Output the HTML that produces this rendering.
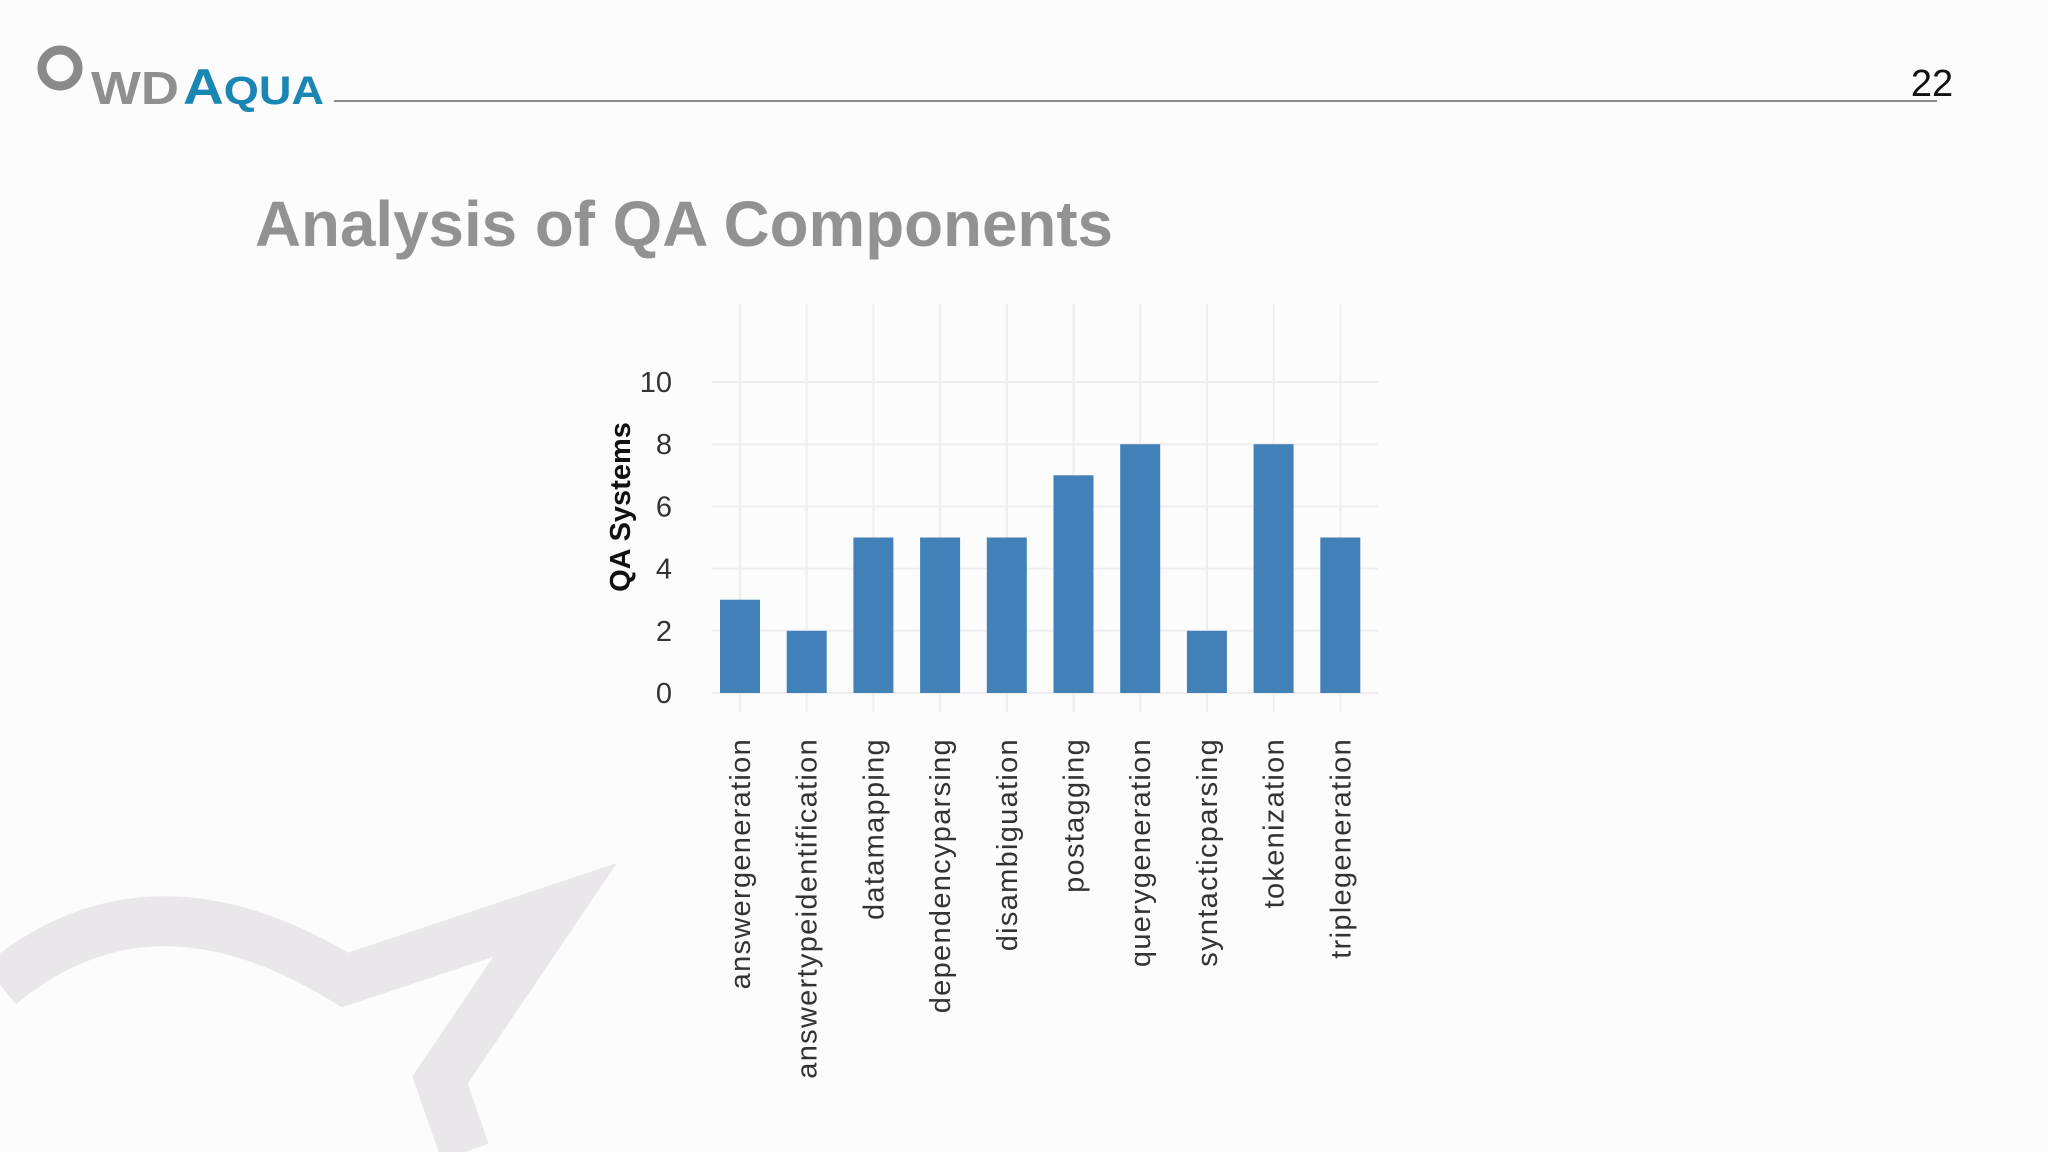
<!DOCTYPE html>
<html><head><meta charset="utf-8"><style>
html,body{margin:0;padding:0;background:#fdfcfd;}
svg{display:block;font-family:"Liberation Sans",sans-serif;}
</style></head><body>
<svg id="slide" width="2048" height="1152" viewBox="0 0 2048 1152">
<rect x="0" y="0" width="2048" height="1152" fill="#fdfcfd"/>
<path d="M0,985 Q150,860 345,980 L555,910 L440,1080 L465,1152" fill="none" stroke="#e9e7ea" stroke-width="50"/>
<g>
<circle cx="60" cy="68" r="18" fill="none" stroke="#8a8a8a" stroke-width="9"/>
<text x="91" y="104" font-size="46" font-weight="bold" fill="#8f8f8f" textLength="88" lengthAdjust="spacingAndGlyphs">WD</text>
<text x="183" y="104" font-size="50" font-weight="bold" fill="#1a86b3" textLength="141" lengthAdjust="spacingAndGlyphs">A<tspan font-size="40">QUA</tspan></text>
</g>
<line x1="334" y1="101" x2="1937" y2="101" stroke="#8a8a8a" stroke-width="2"/>
<text x="1932" y="96" font-size="38" fill="#111" text-anchor="middle">22</text>
<text x="255" y="246" font-size="64" font-weight="bold" fill="#929292" textLength="858" lengthAdjust="spacingAndGlyphs">Analysis of QA Components</text>
<g id="chart"></g>
</svg>
<script>
const categories=["answergeneration","answertypeidentification","datamapping","dependencyparsing","disambiguation","postagging","querygeneration","syntacticparsing","tokenization","triplegeneration"];
const values=[3,2,5,5,5,7,8,2,8,5];
const yTicks=[0,2,4,6,8,10];
const yLabels=["0","2","4","6","8","10"];
const NS="http://www.w3.org/2000/svg";
const g=document.getElementById('chart');
const x0=740, step=66.7, bw=40, yBase=693, unit=31.1;
function xs(i){return x0+i*step;}
function ys(v){return yBase-v*unit;}
function mk(t,a,txt){const e=document.createElementNS(NS,t);for(const k in a)e.setAttribute(k,a[k]);if(txt!==undefined)e.textContent=txt;g.appendChild(e);return e;}
yTicks.forEach((v,i)=>{
 const l=mk('line',{x1:712,x2:1378,y1:ys(v),y2:ys(v),stroke:'#efedf1','stroke-width':2});
 
 
 const t=mk('text',{x:672,y:ys(v)+10,'font-size':29,fill:'#333','text-anchor':'end'},yLabels[i]);
 
 
});
categories.forEach((c,i)=>{
 const l=mk('line',{x1:xs(i),x2:xs(i),y1:304,y2:712,stroke:'#efedf1','stroke-width':2});
 
 
});
categories.forEach((c,i)=>{
 const r=mk('rect',{x:xs(i)-bw/2,y:ys(values[i]),width:bw,height:values[i]*unit,fill:'#4281b8'});
 
 
 const t=mk('text',{x:0,y:0,'font-size':29,fill:'#333','text-anchor':'end','letter-spacing':'1.3',transform:'translate('+(xs(i)+10)+',738) rotate(-90)'},c);
 
 
});
const yt=mk('text',{x:0,y:0,'font-size':29,'font-weight':'bold',fill:'#111','text-anchor':'middle',transform:'translate(630,507) rotate(-90)'},'QA Systems');


</script>
</body></html>
